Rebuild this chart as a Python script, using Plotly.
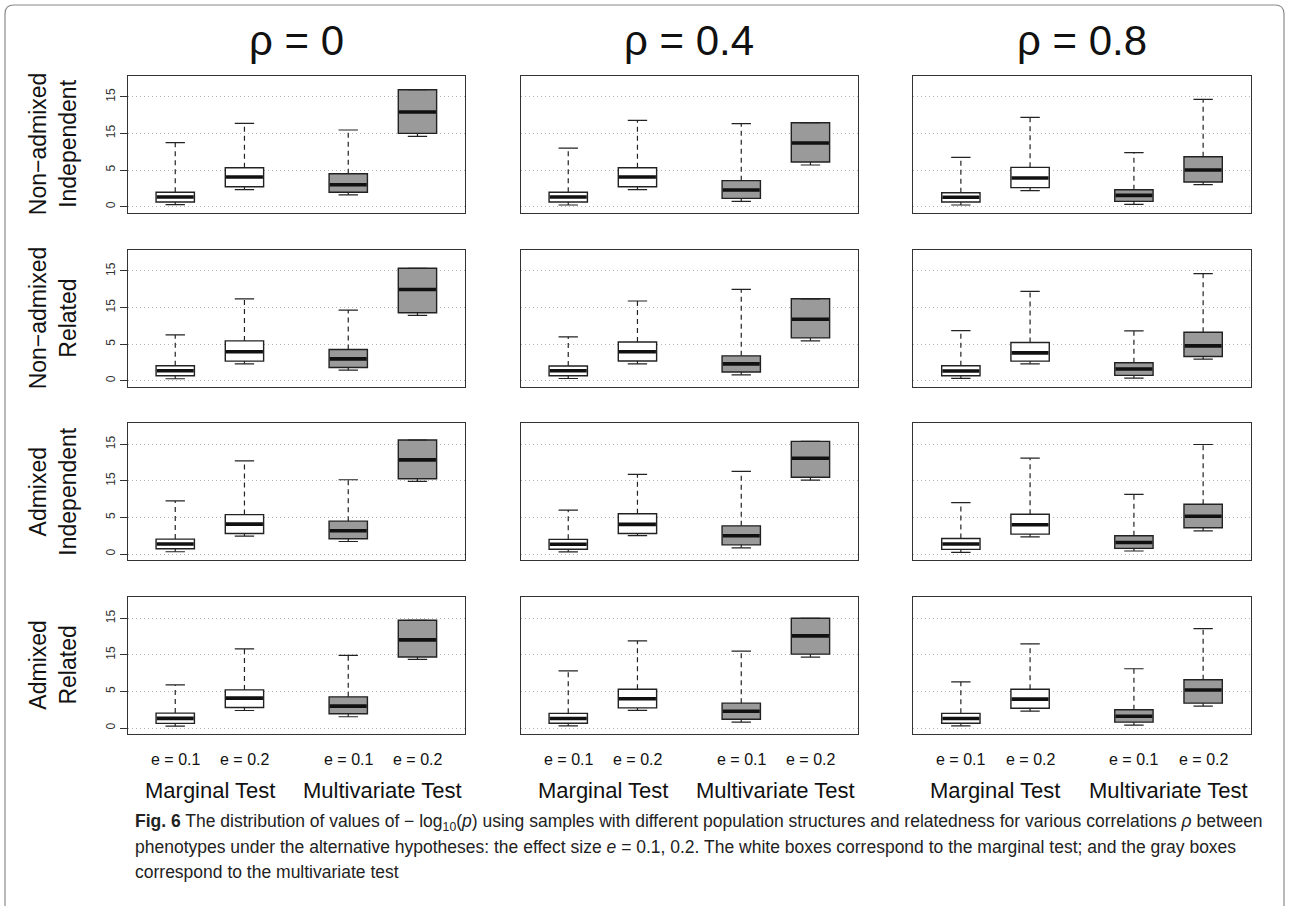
import plotly.graph_objects as go

# Panel labels
ROW_LABELS = ["Non−admixed<br>Independent", "Non−admixed<br>Related",
              "Admixed<br>Independent", "Admixed<br>Related"]
COL_LABELS = ["ρ = 0", "ρ = 0.4", "ρ = 0.8"]
GROUP_LABELS = ["e = 0.1", "e = 0.2", "e = 0.1", "e = 0.2"]
TEST_LABELS = ["Marginal Test", "Multivariate Test"]
BOX_POS = [1, 2, 3.5, 4.5]
BOX_FILL = ["white", "white", "#9a9a9a", "#9a9a9a"]
Y_TICKS = [0, 5, 10, 15]
Y_TICK_TEXT = ["0", "5", "15", "15"]

# Box statistics of -log10(p): [row][column][box]
upper_whisker = [
    [[8.73, 11.37, 10.46, 15.96], [8.0, 11.78, 11.33, 11.46], [6.74, 12.19, 7.37, 14.65]],
    [[6.26, 11.2, 9.66, 15.37], [6.0, 10.9, 12.5, 11.2], [6.84, 12.2, 6.8, 14.65]],
    [[7.26, 12.73, 10.15, 15.59], [6.0, 10.9, 11.3, 15.4], [7.02, 13.1, 8.16, 14.97]],
    [[5.89, 10.83, 9.93, 14.73], [7.8, 11.9, 10.5, 15.0], [6.3, 11.5, 8.1, 13.6]],
]
upper_quartile = [
    [[1.96, 5.32, 4.5, 15.96], [1.96, 5.32, 3.55, 11.46], [1.91, 5.37, 2.32, 6.82]],
    [[2.04, 5.44, 4.26, 15.37], [2.0, 5.3, 3.4, 11.2], [2.04, 5.22, 2.45, 6.62]],
    [[2.04, 5.39, 4.49, 15.59], [2.0, 5.5, 3.85, 15.4], [2.12, 5.44, 2.49, 6.8]],
    [[2.04, 5.21, 4.26, 14.73], [2.0, 5.3, 3.4, 15.0], [2.0, 5.3, 2.5, 6.6]],
]
median = [
    [[1.32, 4.05, 3.0, 12.92], [1.32, 4.05, 2.28, 8.69], [1.28, 3.91, 1.55, 5.0]],
    [[1.36, 3.95, 2.99, 12.47], [1.36, 3.95, 2.3, 8.4], [1.32, 3.81, 1.59, 4.76]],
    [[1.36, 4.08, 3.17, 12.87], [1.33, 4.05, 2.5, 13.1], [1.36, 3.99, 1.58, 5.17]],
    [[1.31, 4.08, 2.99, 12.05], [1.3, 4.0, 2.3, 12.6], [1.3, 3.95, 1.6, 5.2]],
]
lower_quartile = [
    [[0.64, 2.73, 1.96, 10.0], [0.64, 2.73, 1.14, 6.1], [0.64, 2.6, 0.73, 3.37]],
    [[0.68, 2.68, 1.81, 9.3], [0.68, 2.7, 1.2, 5.85], [0.68, 2.68, 0.73, 3.31]],
    [[0.72, 2.8, 2.08, 10.29], [0.65, 2.8, 1.25, 10.5], [0.63, 2.72, 0.77, 3.58]],
    [[0.63, 2.8, 1.95, 9.7], [0.65, 2.75, 1.2, 10.1], [0.65, 2.7, 0.8, 3.4]],
]
lower_whisker = [
    [[0.27, 2.32, 1.6, 9.6], [0.23, 2.32, 0.73, 5.69], [0.23, 2.18, 0.32, 3.0]],
    [[0.27, 2.31, 1.45, 8.94], [0.3, 2.3, 0.8, 5.45], [0.32, 2.31, 0.36, 2.95]],
    [[0.31, 2.45, 1.71, 9.93], [0.3, 2.5, 0.85, 10.1], [0.22, 2.35, 0.41, 3.17]],
    [[0.27, 2.39, 1.54, 9.39], [0.3, 2.4, 0.8, 9.7], [0.3, 2.3, 0.4, 3.0]],
]

CAPTION_LINES = [
    ("<b>Fig. 6</b> The distribution of values of − log<sub>10</sub>(<i>p</i>) using samples "
     "with different population structures and relatedness for various correlations "
     "<i>ρ</i> between"),
    ("phenotypes under the alternative hypotheses: the effect size <i>e</i> = 0.1, 0.2. "
     "The white boxes correspond to the marginal test; and the gray boxes"),
    "correspond to the multivariate test",
]

W, H = 1289, 906
PANEL_LEFT = [127.7, 520.7, 913.3]
PANEL_RIGHT = [465.0, 858.0, 1250.7]
PANEL_TOP = [75.7, 250.0, 423.3, 597.3]
PANEL_BOTTOM = [212.7, 386.7, 560.0, 734.0]
CAPTION_Y = [822, 847, 872]
BOX_HALF = 0.277
CAP_HALF = 0.14
INK = "#222222"
FONT = "Liberation Sans, Arial, sans-serif"

fig = go.Figure()
layout_axes = {}

for r in range(4):
    for c in range(3):
        k = r * 3 + c + 1
        xa = "x" if k == 1 else f"x{k}"
        ya = "y" if k == 1 else f"y{k}"
        hi = upper_whisker[r][c]
        q3 = upper_quartile[r][c]
        md = median[r][c]
        q1 = lower_quartile[r][c]
        lo = lower_whisker[r][c]

        # whiskers (dashed) and caps
        wx, wy, cx, cy = [], [], [], []
        for i, p in enumerate(BOX_POS):
            wx += [p, p, None, p, p, None]
            wy += [q3[i], hi[i], None, q1[i], lo[i], None]
            cx += [p - CAP_HALF, p + CAP_HALF, None, p - CAP_HALF, p + CAP_HALF, None]
            cy += [hi[i], hi[i], None, lo[i], lo[i], None]
        fig.add_trace(go.Scatter(x=wx, y=wy, mode="lines", xaxis=xa, yaxis=ya,
                                 line=dict(color=INK, width=1.2, dash="5px,4px"),
                                 hoverinfo="skip", showlegend=False))
        fig.add_trace(go.Scatter(x=cx, y=cy, mode="lines", xaxis=xa, yaxis=ya,
                                 line=dict(color=INK, width=1.2),
                                 hoverinfo="skip", showlegend=False))

        # boxes from lower to upper quartile
        fig.add_trace(go.Bar(x=BOX_POS, base=q1,
                             y=[q3[i] - q1[i] for i in range(4)],
                             width=2 * BOX_HALF, xaxis=xa, yaxis=ya,
                             marker=dict(color=BOX_FILL, line=dict(color=INK, width=1.4)),
                             hoverinfo="skip", showlegend=False))

        # thick median bars
        mx, my = [], []
        for i, p in enumerate(BOX_POS):
            mx += [p - BOX_HALF + 0.01, p + BOX_HALF - 0.01, None]
            my += [md[i], md[i], None]
        fig.add_trace(go.Scatter(x=mx, y=my, mode="lines", xaxis=xa, yaxis=ya,
                                 line=dict(color="#111111", width=3.6),
                                 hoverinfo="skip", showlegend=False))

        xkey = "xaxis" if k == 1 else f"xaxis{k}"
        ykey = "yaxis" if k == 1 else f"yaxis{k}"
        layout_axes[xkey] = dict(
            domain=[PANEL_LEFT[c] / W, PANEL_RIGHT[c] / W],
            range=[0.313, 5.187], anchor=ya,
            showgrid=False, zeroline=False, showticklabels=False, ticks="",
            showline=True, mirror=True, linecolor="#333333", linewidth=1.3,
        )
        first_col = c == 0
        layout_axes[ykey] = dict(
            domain=[1 - PANEL_BOTTOM[r] / H, 1 - PANEL_TOP[r] / H],
            range=[-0.82, 17.87], anchor=xa,
            tickvals=Y_TICKS, ticktext=Y_TICK_TEXT,
            showticklabels=first_col, ticks="outside" if first_col else "",
            ticklen=7, tickwidth=1, tickcolor="#333333", tickangle=-90,
            tickfont=dict(family=FONT, size=12, color="#333333"),
            showgrid=True, griddash="1px,3px", gridcolor="#b4b4b4", gridwidth=1,
            zeroline=False,
            showline=True, mirror=True, linecolor="#333333", linewidth=1.3,
        )

annotations = []
# column titles
for c, t in enumerate(COL_LABELS):
    annotations.append(dict(text=t, x=(PANEL_LEFT[c] + PANEL_RIGHT[c]) / 2 / W,
                            y=1 - 40 / H, xref="paper", yref="paper",
                            showarrow=False, xanchor="center", yanchor="middle",
                            font=dict(family=FONT, size=42, color="#111111")))
# row titles
for r, t in enumerate(ROW_LABELS):
    annotations.append(dict(text=t, x=53 / W,
                            y=1 - (PANEL_TOP[r] + PANEL_BOTTOM[r]) / 2 / H,
                            xref="paper", yref="paper", textangle=-90,
                            showarrow=False, xanchor="center", yanchor="middle",
                            font=dict(family=FONT, size=23, color="#111111")))
# group and test labels under the bottom row
for c in range(3):
    k = 9 + c + 1
    for i, p in enumerate(BOX_POS):
        annotations.append(dict(text=GROUP_LABELS[i], x=p, xref=f"x{k}",
                                y=1 - 759 / H, yref="paper", showarrow=False,
                                xanchor="center", yanchor="middle",
                                font=dict(family=FONT, size=16, color="#111111")))
    for j in range(2):
        annotations.append(dict(text=TEST_LABELS[j],
                                x=(BOX_POS[2 * j] + BOX_POS[2 * j + 1]) / 2,
                                xref=f"x{k}", y=1 - 790 / H, yref="paper",
                                showarrow=False, xanchor="center", yanchor="middle",
                                font=dict(family=FONT, size=22, color="#111111")))

# caption, one annotation per line
for line, yc in zip(CAPTION_LINES, CAPTION_Y):
    annotations.append(dict(text=line, x=133 / W, y=1 - yc / H, xref="paper", yref="paper",
                            showarrow=False, xanchor="left", yanchor="middle", align="left",
                            font=dict(family=FONT, size=17.5, color="#222222")))

# outer frame with rounded top corners
frame = dict(type="path", xref="paper", yref="paper",
             path=(f"M {5/W} 0 L {5/W} {1-14/H} Q {5/W} {1-5/H} {14/W} {1-5/H} "
                   f"L {1275/W} {1-5/H} Q {1284/W} {1-5/H} {1284/W} {1-14/H} L {1284/W} 0"),
             line=dict(color="#8a8a8a", width=1.2))

fig.update_layout(
    width=W, height=H, margin=dict(l=0, r=0, t=0, b=0),
    paper_bgcolor="white", plot_bgcolor="white",
    barmode="overlay", showlegend=False,
    annotations=annotations, shapes=[frame],
    **layout_axes,
)

fig.write_html("out.html")
